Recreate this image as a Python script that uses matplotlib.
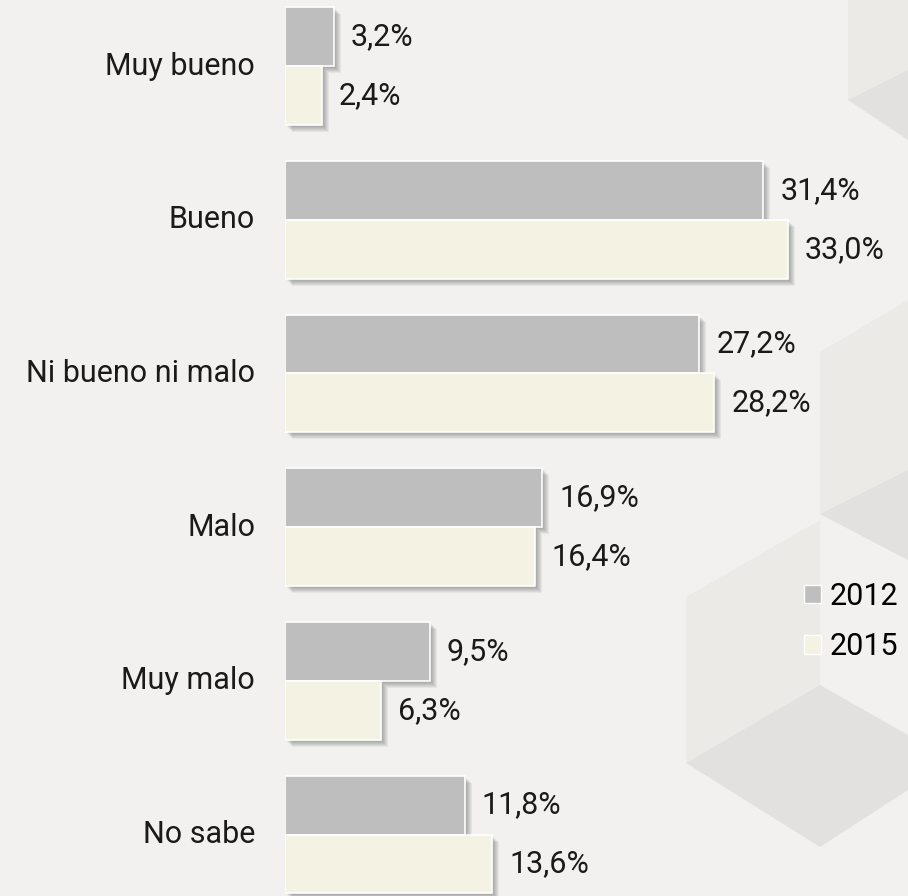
# Valoración 2012 vs 2015 - barras horizontales

from matplotlib import pyplot as plt
from matplotlib.patches import Patch, Polygon

categories = ["Muy bueno", "Bueno", "Ni bueno ni malo", "Malo", "Muy malo", "No sabe"]
values_2012 = [3.2, 31.4, 27.2, 16.9, 9.5, 11.8]
values_2015 = [2.4, 33.0, 28.2, 16.4, 6.3, 13.6]
years = ["2012", "2015"]

BG = "#f2f1ef"
COLOR_2012 = "#bebebe"
COLOR_2015 = "#f3f2e3"
LIGHT_FACE = "#ebeae6"
DARK_FACE = "#e2e1df"
FONT_SIZE = 22

plt.rcParams["font.family"] = ["Roboto", "DejaVu Sans"]

fig = plt.figure(figsize=(9.08, 8.96), dpi=100, facecolor=BG)

# Background decoration (faint cubes), pixel coordinates
bg = fig.add_axes([0, 0, 1, 1], zorder=0)
bg.set_xlim(0, 908)
bg.set_ylim(896, 0)
bg.axis("off")
shapes = [
    ([(848, 0), (908, 0), (908, 130), (848, 100)], LIGHT_FACE),
    ([(848, 100), (908, 70), (908, 140)], DARK_FACE),
    ([(820, 352), (908, 300), (908, 560), (820, 514)], LIGHT_FACE),
    ([(820, 514), (908, 470), (908, 560)], DARK_FACE),
    ([(686, 597), (820, 520), (820, 685), (686, 763)], LIGHT_FACE),
    ([(686, 763), (820, 685), (908, 735), (908, 790), (820, 847)], DARK_FACE),
]
for pts, col in shapes:
    bg.add_patch(Polygon(pts, closed=True, facecolor=col, edgecolor="none"))

# Main axes
px_per_pct = 15.23
ax = fig.add_axes([285 / 908, 0, 623 / 908, 1], zorder=1)
ax.set_facecolor("none")
ax.set_xlim(0, 623 / px_per_pct)
ax.set_ylim(5.40, -0.43)
ax.axis("off")

h = 0.383
y_idx = list(range(len(categories)))
y_2012 = [y - h / 2 for y in y_idx]
y_2015 = [y + h / 2 for y in y_idx]

# Soft drop shadows
dx = 1 / px_per_pct
dy = 1 / 153.6
for k in range(1, 8):
    for ys, vals in ((y_2012, values_2012), (y_2015, values_2015)):
        ax.barh([y + k * dy for y in ys], vals, height=h, left=k * dx,
                color="#3a3a3a", alpha=0.07, linewidth=0)

# Bars
ax.barh(y_2012, values_2012, height=h, color=COLOR_2012,
        edgecolor="white", linewidth=1.2)
ax.barh(y_2015, values_2015, height=h, color=COLOR_2015,
        edgecolor="white", linewidth=1.2)

# Value labels
for ys, vals in ((y_2012, values_2012), (y_2015, values_2015)):
    for y, v in zip(ys, vals):
        ax.text(v + 17 / px_per_pct, y, f"{v:.1f}%".replace(".", ","),
                ha="left", va="center", fontsize=FONT_SIZE, color="#1a1a1a")

# Category labels
for y, name in zip(y_idx, categories):
    ax.text(-30 / px_per_pct, y, name, ha="right", va="center",
            fontsize=FONT_SIZE, color="#1a1a1a", clip_on=False)

# Legend
handles = [Patch(facecolor=COLOR_2012, edgecolor="white"),
           Patch(facecolor=COLOR_2015, edgecolor="white")]
fig.legend(handles, years, loc="center left",
           bbox_to_anchor=(804 / 908, 1 - 621.5 / 896),
           frameon=False, fontsize=FONT_SIZE, handlelength=0.55, handleheight=0.55,
           handletextpad=0.3, labelspacing=0.7, borderpad=0, borderaxespad=0)

fig.savefig("out.png", dpi=100, facecolor=BG)
plt.close(fig)
